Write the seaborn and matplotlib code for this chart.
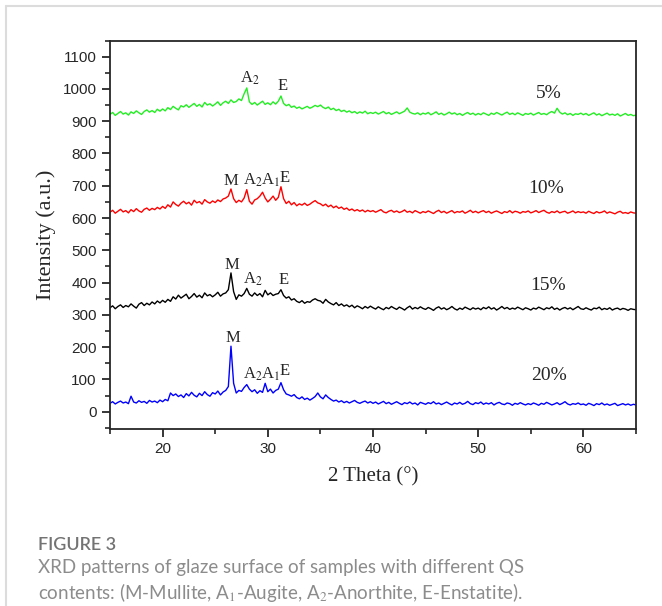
import numpy as np
import pandas as pd
import matplotlib.pyplot as plt
from matplotlib.lines import Line2D
from matplotlib.ticker import MultipleLocator
import seaborn as sns

# 2 theta grid (degrees), 0.25 step
two_theta = np.arange(15, 65.001, 0.25)

# Intensities (already offset per sample)
i_20 = [26, 31, 24, 29, 33, 27, 30, 25, 48, 30, 27, 34, 29, 32, 26, 35, 30, 33, 28, 36,
        31, 38, 34, 58, 50, 55, 47, 52, 44, 56, 49, 60, 51, 46, 57, 50, 62, 53, 48, 59,
        55, 64, 52, 61, 66, 78, 203, 88, 58, 66, 63, 75, 84, 70, 62, 68, 57, 65, 60, 88,
        62, 70, 58, 66, 70, 90, 68, 55, 52, 48, 53, 44, 40, 46, 38, 42, 36, 41, 47, 58,
        46, 40, 52, 44, 38, 33, 36, 30, 34, 28, 32, 27, 31, 35, 29, 26, 30, 33, 27, 31,
        26, 30, 24, 28, 32, 25, 29, 23, 27, 31, 26, 22, 28, 25, 30, 24, 27, 21, 29, 26,
        23, 28, 25, 31, 24, 27, 22, 26, 30, 25, 21, 27, 24, 29, 23, 26, 32, 25, 22, 28,
        25, 30, 23, 27, 24, 28, 21, 26, 29, 24, 22, 27, 25, 20, 26, 23, 28, 24, 21, 25,
        22, 27, 24, 20, 26, 23, 29, 25, 21, 24, 28, 22, 26, 31, 24, 21, 25, 23, 27, 22,
        24, 20, 26, 23, 19, 25, 22, 27, 21, 24, 20, 23, 26, 19, 22, 25, 21, 24, 20, 23,
        21]
i_15 = [322, 328, 319, 326, 331, 323, 329, 325, 334, 327, 321, 333, 338, 329, 336, 331, 340, 334, 343, 337,
        345, 339, 348, 342, 356, 349, 361, 352, 358, 364, 350, 357, 366, 355, 361, 353, 368, 359, 363, 356,
        362, 370, 358, 365, 368, 378, 430, 372, 348, 362, 358, 366, 382, 364, 358, 368, 360, 366, 356, 376,
        362, 368, 360, 364, 366, 378, 360, 352, 356, 346, 350, 342, 338, 344, 336, 341, 339, 346, 350, 345,
        343, 336, 348, 340, 335, 331, 338, 329, 334, 327, 331, 325, 330, 322, 328, 324, 319, 326, 321, 327,
        322, 318, 325, 320, 316, 323, 319, 326, 321, 317, 324, 320, 315, 322, 327, 318, 323, 319, 325, 320,
        317, 323, 319, 314, 321, 325, 318, 322, 316, 320, 326, 319, 315, 321, 317, 324, 320, 316, 322, 318,
        321, 316, 323, 319, 325, 318, 322, 315, 320, 326, 319, 323, 317, 321, 318, 324, 320, 316, 322, 319,
        315, 321, 318, 324, 320, 316, 322, 319, 325, 317, 321, 315, 320, 323, 318, 322, 316, 321, 326, 319,
        317, 322, 318, 315, 321, 319, 324, 316, 320, 317, 322, 315, 319, 321, 316, 320, 318, 314, 319, 317,
        316]
i_10 = [618, 624, 615, 621, 627, 619, 623, 616, 626, 620, 629, 622, 618, 627, 631, 624, 630, 626, 633, 628,
        636, 630, 641, 634, 650, 642, 637, 646, 652, 644, 649, 640, 655, 647, 651, 643, 657, 650, 646, 653,
        648, 656, 651, 659, 662, 668, 690, 660, 648, 655, 650, 662, 688, 652, 643, 656, 660, 668, 680, 662,
        650, 658, 668, 655, 664, 697, 660, 645, 652, 641, 648, 638, 644, 640, 646, 639, 643, 649, 654, 647,
        644, 638, 643, 635, 640, 632, 637, 630, 634, 627, 631, 624, 628, 622, 626, 621, 625, 619, 624, 620,
        623, 618, 622, 626, 619, 616, 621, 624, 618, 622, 617, 620, 625, 618, 621, 616, 623, 619, 615, 620,
        617, 622, 618, 614, 620, 624, 617, 621, 615, 619, 623, 616, 620, 618, 622, 615, 619, 624, 617, 621,
        616, 620, 623, 617, 621, 615, 619, 622, 618, 614, 620, 617, 623, 616, 621, 619, 615, 620, 618, 622,
        616, 619, 623, 617, 621, 624, 618, 615, 620, 617, 622, 616, 619, 621, 615, 618, 622, 616, 620, 617,
        619, 615, 621, 617, 614, 620, 616, 618, 622, 615, 619, 616, 613, 618, 621, 615, 617, 614, 619, 616,
        615]
i_5 = [921, 927, 918, 924, 930, 922, 926, 919, 929, 924, 932, 926, 921, 930, 935, 928, 933, 927, 937, 931,
       938, 932, 942, 936, 946, 940, 935, 948, 944, 951, 943, 949, 955, 946, 952, 944, 958, 950, 954, 947,
       953, 960, 949, 957, 962, 955, 966, 958, 961, 969, 964, 985, 1003, 960, 952, 958, 950, 956, 962, 952,
       957, 951, 960, 953, 962, 978, 955, 948, 952, 943, 947, 940, 944, 938, 942, 946, 940, 944, 949, 945,
       950, 943, 939, 944, 936, 940, 933, 937, 930, 934, 928, 932, 926, 930, 924, 929, 925, 931, 923, 927,
       924, 928, 922, 926, 930, 923, 927, 921, 925, 929, 923, 927, 931, 941, 928, 924, 922, 926, 920, 925,
       922, 927, 920, 924, 929, 921, 925, 919, 923, 928, 922, 926, 920, 924, 918, 923, 927, 921, 925, 919,
       924, 920, 926, 922, 918, 925, 921, 927, 923, 919, 924, 928, 921, 925, 920, 926, 922, 918, 924, 921,
       925, 919, 923, 927, 921, 924, 920, 926, 930, 925, 940, 928, 922, 926, 920, 924, 918, 923, 921, 925,
       920, 924, 918, 922, 926, 919, 923, 917, 921, 925, 919, 922, 918, 923, 916, 920, 924, 918, 921, 917,
       919]

samples = ['5%', '10%', '15%', '20%']
colors = ['#22ee22', '#ff0000', '#000000', '#0000ff']
label_x = [56.7, 56.5, 56.6, 56.7]
label_y = [985, 691, 392, 111]

# peak letters: (text, x, y)
peaks = [('A$_2$', 27.4, 1034), ('E', 30.9, 1009),
         ('M', 25.8, 716), ('A$_2$', 27.6, 716), ('A$_1$', 29.4, 716), ('E', 31.15, 725),
         ('M', 25.9, 454), ('A$_2$', 27.6, 410), ('E', 31.0, 407),
         ('M', 26.0, 228), ('A$_2$', 27.6, 117), ('A$_1$', 29.4, 117), ('E', 31.15, 127)]

frames = []
for name, vals in zip(samples, [i_5, i_10, i_15, i_20]):
    frames.append(pd.DataFrame({'two_theta': two_theta, 'intensity': vals, 'sample': name}))
df = pd.concat(frames, ignore_index=True)

sns.set_style('ticks')
plt.rcParams['font.family'] = ['Liberation Sans', 'DejaVu Sans']
plt.rcParams['mathtext.fontset'] = 'stix'

fig = plt.figure(figsize=(6.62, 6.06), dpi=100)
ax = fig.add_axes([110 / 662, 1 - 428.5 / 606, 526 / 662, 388 / 606])

sns.lineplot(data=df, x='two_theta', y='intensity', hue='sample', hue_order=samples,
             palette=colors, legend=False, errorbar=None, linewidth=1.0, ax=ax)

serif = ['Liberation Serif', 'DejaVu Serif']
for s, x, y in zip(samples, label_x, label_y):
    ax.text(x, y, s, ha='center', va='center', fontsize=14, family=serif)
for t, x, y in peaks:
    ax.text(x, y, t, ha='left', va='center', fontsize=12, family=serif)

ax.set_xlim(15, 65)
ax.set_ylim(-52, 1150)
ax.xaxis.set_major_locator(MultipleLocator(10))
ax.xaxis.set_minor_locator(MultipleLocator(5))
ax.yaxis.set_major_locator(MultipleLocator(100))
ax.yaxis.set_minor_locator(MultipleLocator(50))
ax.set_yticks(range(0, 1101, 100))
ax.tick_params(which='major', direction='out', length=6, width=1.3, labelsize=11)
ax.tick_params(which='minor', direction='out', length=3.5, width=1.2)
for sp in ax.spines.values():
    sp.set_linewidth(1.3)
ax.set_xlabel('2 Theta (°)', fontsize=15, family=serif, labelpad=8)
ax.set_ylabel('Intensity (a.u.)', fontsize=16, family=serif, labelpad=5)

# page frame and caption
fig.add_artist(Line2D([6 / 662, 1], [1 - 6 / 606, 1 - 6 / 606], color='#dcdcdc', lw=1.5))
fig.add_artist(Line2D([6 / 662, 6 / 662], [0, 1 - 6 / 606], color='#dcdcdc', lw=1.5))
cap_font = ['Lato', 'DejaVu Sans']
fig.text(38 / 662, 1 - 545 / 606, 'FIGURE 3', fontsize=13, color='#737373',
         family=cap_font, fontweight='semibold', va='center')
fig.text(38 / 662, 1 - 568 / 606, 'XRD patterns of glaze surface of samples with different QS',
         fontsize=13.5, color='#8c8c8c', family=cap_font, va='center')
fig.text(38 / 662, 1 - 592 / 606,
         'contents: (M-Mullite, A$_1$-Augite, A$_2$-Anorthite, E-Enstatite).',
         fontsize=13.5, color='#8c8c8c', family=cap_font, va='center')

fig.savefig('out.png', dpi=100)
